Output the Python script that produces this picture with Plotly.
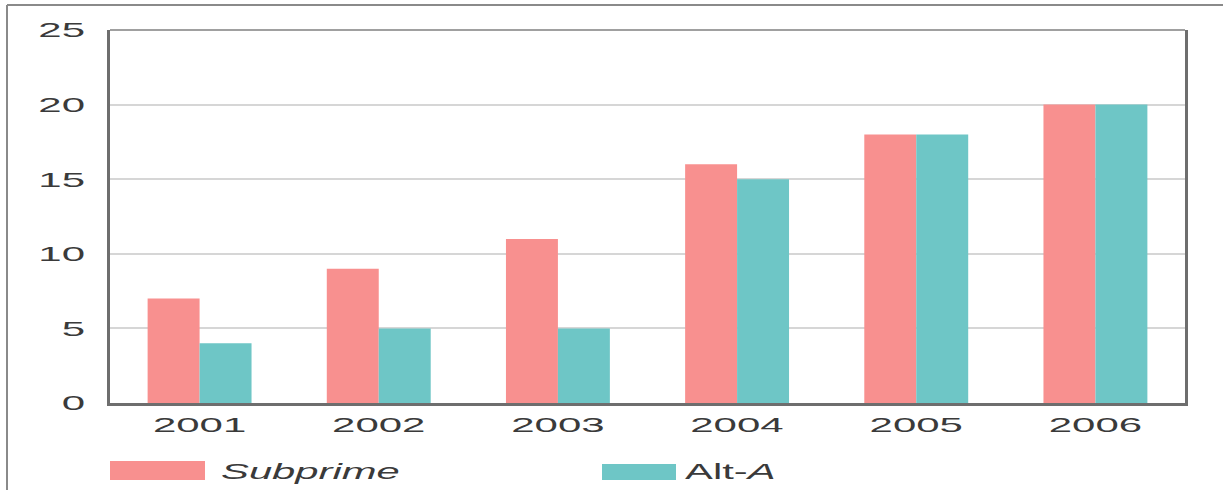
import plotly.graph_objects as go

# Data
years = ["2001", "2002", "2003", "2004", "2005", "2006"]
subprime = [7, 9, 11, 16, 18, 20]
alt_a = [4, 5, 5, 15, 18, 20]
y_ticks = [0, 5, 10, 15, 20, 25]

PINK = "#F8908F"
TEAL = "#6EC6C6"
TEXT = "#3a3a3a"
FONT = "Liberation Sans"

W, H = 1223, 490
ML, MR, MT, MB = 110, 38, 30, 87
PW, PH = W - ML - MR, H - MT - MB


def px_x(px):
    return (px - ML) / PW


def px_y(py):
    return (H - MB - py) / PH


fig = go.Figure()
fig.add_trace(go.Bar(x=years, y=subprime, name="Subprime", marker=dict(color=PINK, line_width=0)))
fig.add_trace(go.Bar(x=years, y=alt_a, name="Alt-A", marker=dict(color=TEAL, line_width=0)))

fig.update_layout(
    width=W, height=H,
    margin=dict(l=ML, r=MR, t=MT, b=MB),
    paper_bgcolor="white", plot_bgcolor="white",
    barmode="group", bargap=0.42, bargroupgap=0,
    showlegend=False,
    font=dict(family=FONT, size=21, color=TEXT),
)
fig.update_xaxes(
    type="category",
    showline=True, mirror=False, linecolor="#6e6e6e", linewidth=2.5,
    showgrid=False, ticks="", ticklabelstandoff=1,
    tickfont=dict(size=21, color=TEXT),
)
fig.update_yaxes(
    range=[0, 25], tickvals=y_ticks,
    showline=True, mirror=True, linecolor="#6e6e6e", linewidth=2.5,
    showgrid=True, gridcolor="#d6d6d6", gridwidth=1.5,
    zeroline=False, ticks="", ticklabelstandoff=18,
    tickfont=dict(size=21, color=TEXT),
)

# Legend drawn below the axis
shapes = [
    # lighter top edge of the plot frame
    dict(type="line", xref="paper", yref="paper", x0=0, x1=1, y0=1, y1=1,
         line=dict(color="#a0a0a0", width=2)),
    dict(type="rect", xref="paper", yref="paper", x0=px_x(110), x1=px_x(205),
         y0=px_y(480), y1=px_y(461), fillcolor=PINK, line_width=0),
    dict(type="rect", xref="paper", yref="paper", x0=px_x(602), x1=px_x(676),
         y0=px_y(480), y1=px_y(464), fillcolor=TEAL, line_width=0),
    # outer frame
    dict(type="line", xref="paper", yref="paper", x0=px_x(7), x1=px_x(7),
         y0=px_y(5), y1=px_y(495), line=dict(color="#8a8a8a", width=2)),
    dict(type="line", xref="paper", yref="paper", x0=px_x(7), x1=px_x(1225),
         y0=px_y(5), y1=px_y(5), line=dict(color="#8a8a8a", width=2)),
]
annotations = [
    dict(xref="paper", yref="paper", x=px_x(219), y=px_y(471), xanchor="left", yanchor="middle",
         text="<i>Subprime</i>", showarrow=False, font=dict(size=22, color=TEXT)),
    dict(xref="paper", yref="paper", x=px_x(683), y=px_y(471), xanchor="left", yanchor="middle",
         text="Alt-<i>A</i>", showarrow=False, font=dict(size=22, color=TEXT)),
]
fig.update_layout(shapes=shapes, annotations=annotations)

# Widen the label glyphs horizontally (extended typeface look)
post = """
var gd = document.getElementById('{plot_id}');
function stretch(sel, s, mode) {
  gd.querySelectorAll(sel).forEach(function (t) {
    var b = t.getBBox();
    var ax = mode === 'end' ? b.x + b.width : (mode === 'start' ? b.x : b.x + b.width / 2);
    var old = t.getAttribute('transform') || '';
    t.setAttribute('transform', old + ' translate(' + ax + ',0) scale(' + s + ',1) translate(' + (-ax) + ',0)');
  });
}
stretch('.xtick text', 2.0, 'mid');
stretch('.ytick text', 2.0, 'end');
stretch('text.annotation-text', 1.9, 'start');
"""

fig.write_html("out.html", post_script=post)
